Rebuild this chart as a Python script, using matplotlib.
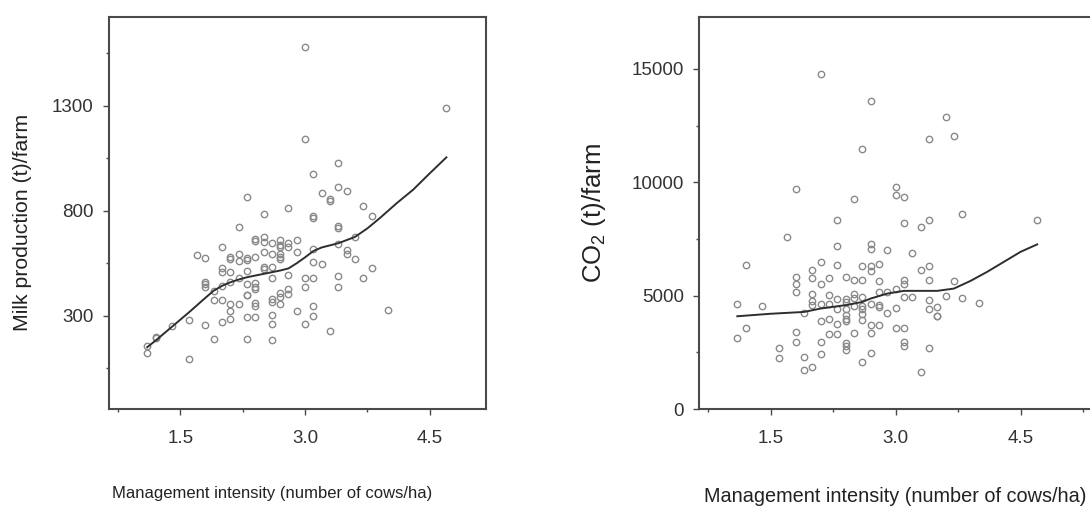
import matplotlib
matplotlib.use("Agg")
import matplotlib.pyplot as plt
from matplotlib.ticker import MultipleLocator

# DATA - management intensity columns and the values read at each one
milk_cols = [1.1, 1.2, 1.4, 1.6, 1.7, 1.8, 1.9, 2.0, 2.1, 2.2, 2.3, 2.4, 2.5, 2.6,
             2.7, 2.8, 2.9, 3.0, 3.1, 3.2, 3.3, 3.4, 3.5, 3.6, 3.7, 3.8, 4.0, 4.7]
milk_vals = [
    [156, 124], [200, 194], [250], [280, 92], [589],
    [576, 462, 451, 435, 256], [419, 375, 188],
    [629, 526, 510, 443, 375, 268], [581, 570, 510, 459, 354, 322, 284],
    [724, 594, 560, 478, 354], [864, 573, 565, 513, 451, 400, 400, 295, 189],
    [665, 657, 578, 454, 435, 427, 359, 348, 295], [783, 673, 652, 605, 533, 522],
    [648, 594, 533, 478, 380, 364, 303, 259, 184], [660, 638, 626, 592, 581, 569, 407, 390, 356],
    [811, 645, 626, 494, 427, 403], [660, 605, 324], [1581, 1140, 478, 438, 259],
    [975, 775, 767, 618, 557, 478, 346, 300], [883, 546], [854, 848, 229],
    [1026, 911, 729, 716, 641, 490, 435], [895, 613, 594], [673, 570], [822, 478],
    [775, 526], [327], [1289],
]
milk_fit_x = [1.1, 1.2, 1.4, 1.6, 1.8, 1.9, 2.0, 2.1, 2.2, 2.3, 2.5, 2.7, 2.8, 2.9,
              3.0, 3.1, 3.2, 3.4, 3.6, 3.75, 3.9, 4.1, 4.3, 4.5, 4.7]
milk_fit_y = [150, 181, 248, 315, 385, 419, 442, 459, 472, 483, 499, 515, 525, 550,
              578, 608, 625, 645, 675, 716, 765, 835, 900, 978, 1054]

co2_cols = [1.1, 1.2, 1.4, 1.6, 1.7, 1.8, 1.9, 2.0, 2.1, 2.2, 2.3, 2.4, 2.5, 2.6,
            2.7, 2.8, 2.9, 3.0, 3.1, 3.2, 3.3, 3.4, 3.5, 3.6, 3.7, 3.8, 4.0, 4.7]
co2_vals = [
    [4620, 3150], [6360, 3580], [4530], [2690, 2270], [7600],
    [9690, 5800, 5500, 5170, 3400, 2970], [4240, 2310, 1710],
    [6120, 5770, 5090, 4750, 4590, 1850], [14780, 6490, 5520, 4610, 3890, 2970, 2430],
    [5760, 5020, 4620, 3960, 3300], [8350, 7210, 6340, 4870, 4430, 3770, 3300],
    [5800, 4870, 4730, 4430, 4140, 3990, 3890, 2930, 2780, 2620],
    [9260, 5710, 5090, 4900, 4530, 3370],
    [11480, 6300, 5710, 4960, 4530, 4390, 4210, 3940, 2080],
    [13570, 7290, 7050, 6300, 6080, 4610, 3690, 3360, 2490],
    [6390, 5640, 5170, 4590, 4500, 3690], [7010, 5150, 4250],
    [9770, 9440, 5300, 4450, 3590], [9360, 8210, 5680, 5520, 4950, 3580, 2960, 2800],
    [6900, 4930], [8020, 6150, 1630], [11920, 8350, 6320, 5700, 4800, 4390, 2690],
    [4500, 4120, 4090], [12890, 4980], [12060, 5650], [8600, 4900], [4680], [8320],
]
co2_fit_x = [1.1, 1.5, 1.9, 2.1, 2.4, 2.6, 2.7, 2.9, 3.1, 3.3, 3.5, 3.7, 3.9,
             4.1, 4.3, 4.5, 4.7]
co2_fit_y = [4090, 4200, 4280, 4430, 4580, 4720, 4870, 5090, 5210, 5210, 5210,
             5310, 5650, 6050, 6490, 6930, 7260]

x_label = "Management intensity (number of cows/ha)"

plt.rcParams["font.family"] = ["Liberation Sans", "DejaVu Sans"]
plt.rcParams["mathtext.fontset"] = "custom"
plt.rcParams["mathtext.rm"] = "Liberation Sans"
plt.rcParams["mathtext.it"] = "Liberation Sans"


def expand(cols, vals):
    xs, ys = [], []
    for c, vs in zip(cols, vals):
        for v in vs:
            xs.append(c)
            ys.append(v)
    return xs, ys


def style(ax):
    for s in ax.spines.values():
        s.set_color("#4a4a4a")
        s.set_linewidth(1.5)
    ax.xaxis.set_major_locator(MultipleLocator(1.5))
    ax.xaxis.set_minor_locator(MultipleLocator(0.75))
    ax.tick_params(which="major", direction="out", length=4, width=1, color="#4a4a4a",
                   labelsize=13.5, labelcolor="#333333")
    ax.tick_params(which="minor", direction="out", length=2.5, width=1, color="#4a4a4a")
    ax.tick_params(axis="x", which="major", pad=11)
    ax.tick_params(axis="y", which="major", pad=7)
    ax.xaxis.set_major_formatter(matplotlib.ticker.FormatStrFormatter("%.1f"))


fig = plt.figure(figsize=(10.9, 5.14), dpi=100)

# LEFT PANEL - milk production
ax1 = fig.add_axes([109 / 1090, 1 - 409.3 / 514, 377 / 1090, 392.6 / 514])
mx, my = expand(milk_cols, milk_vals)
ax1.plot(mx, my, "o", mfc="none", mec="#8a8a8a", mew=1.0, ms=4.6)
ax1.plot(milk_fit_x, milk_fit_y, color="#2e2e2e", lw=1.4)
ax1.set_xlim(0.64, 0.64 + 377 / 83.1)
ax1.set_ylim(-146, 1724)
ax1.yaxis.set_major_locator(MultipleLocator(500, offset=300))
ax1.yaxis.set_minor_locator(MultipleLocator(250, offset=50))
style(ax1)
ax1.set_xlabel(x_label, fontsize=12, color="#222222")
ax1.xaxis.set_label_coords(0.432, -0.195)
ax1.set_ylabel("Milk production (t)/farm", fontsize=15.3, color="#222222")
ax1.yaxis.set_label_coords(-0.205, 0.475)

# RIGHT PANEL - CO2
ax2 = fig.add_axes([699 / 1090, 1 - 409 / 514, 400 / 1090, 392.3 / 514])
cx, cy = expand(co2_cols, co2_vals)
ax2.plot(cx, cy, "o", mfc="none", mec="#8a8a8a", mew=1.0, ms=4.6)
ax2.plot(co2_fit_x, co2_fit_y, color="#2e2e2e", lw=1.4)
ax2.set_xlim(0.64, 0.64 + 400 / 83.3)
ax2.set_ylim(0, 17300)
ax2.yaxis.set_major_locator(MultipleLocator(5000))
ax2.yaxis.set_minor_locator(MultipleLocator(2500))
style(ax2)
ax2.set_xlabel(x_label, fontsize=14.3, color="#222222")
ax2.xaxis.set_label_coords(0.49, -0.2)
ax2.set_ylabel(r"CO$_\mathrm{2}$ (t)/farm", fontsize=18.5, color="#222222")
ax2.yaxis.set_label_coords(-0.2275, 0.50)

fig.savefig("out.png", dpi=100)
